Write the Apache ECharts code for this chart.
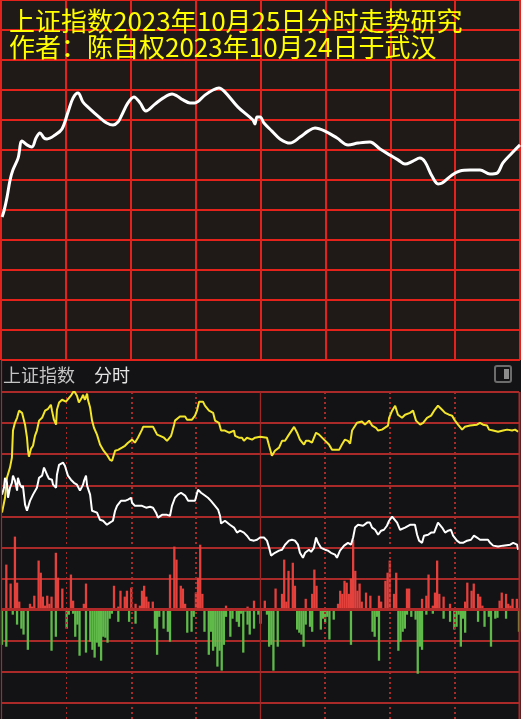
<!DOCTYPE html>
<html><head><meta charset="utf-8">
<script src="https://cdn.jsdelivr.net/npm/echarts@6/dist/echarts.min.js"></script>
<style>html,body{margin:0;padding:0;background:#1f1a18;}#c{width:521px;height:719px;}</style>
</head><body><div id="c"></div>
<script>
// ---- text ----
const titleLines = ['上证指数2023年10月25日分时走势研究', '作者：陈自权2023年10月24日于武汉'];
const panelName = '上证指数';
const panelMode = '分时';

// ---- top study curve: [minute, level] ----
const topCurve = [[0.5,47.7],[1.4,49.7],[2.8,54.3],[4.2,60.0],[5.5,63.3],[7.9,67.3],[9.7,73.0],[12.0,71.7],[14.3,71.0],[16.2,74.0],[18.0,75.7],[19.9,74.0],[21.3,73.7],[25.0,75.0],[28.2,77.0],[31.0,82.7],[33.3,87.3],[35.6,89.0],[37.9,86.0],[40.2,84.3],[45.8,80.7],[48.9,79.0],[51.8,78.3],[54.1,79.3],[55.9,81.7],[58.7,85.7],[61.5,87.7],[64.3,85.7],[67.0,83.0],[71.2,85.3],[74.9,87.3],[79.1,88.7],[81.4,88.0],[84.2,86.7],[87.4,85.7],[89.7,85.7],[94.3,88.3],[98.0,90.0],[100.8,90.7],[103.6,89.3],[109.6,84.3],[116.5,80.0],[117.4,78.7],[118.4,81.0],[119.8,81.0],[121.6,79.0],[125.3,76.3],[129.0,73.7],[133.6,72.3],[138.3,74.3],[142.0,76.3],[145.2,77.3],[149.8,76.3],[155.4,74.0],[160.5,71.7],[165.1,72.3],[170.6,72.7],[175.3,70.3],[179.9,68.3],[183.6,66.7],[186.8,65.3],[190.5,66.3],[193.7,67.3],[196.1,66.0],[199.3,61.3],[202.1,58.7],[204.0,59.0],[208.6,61.7],[212.2,63.0],[216.9,63.3],[221.5,63.3],[226.1,62.0],[229.4,62.3],[232.1,65.7],[236.3,69.0],[240.0,71.7]];

// ---- intraday panel: yellow line [minute, value] ----
const yellowLine = [[0,31.2],[1.4,36.0],[2.3,42.4],[3.7,45.7],[4.6,48.9],[5.1,57.6],[6.0,60.1],[7.0,61.7],[7.9,64.0],[8.8,64.6],[9.3,63.3],[9.7,62.7],[10.7,59.5],[11.6,55.3],[12.1,51.1],[12.5,49.2],[13.5,51.8],[13.9,51.4],[14.4,52.7],[15.3,55.9],[16.2,57.6],[17.2,60.8],[18.6,61.7],[20.0,64.0],[21.4,64.6],[22.7,65.9],[23.2,64.0],[24.1,61.1],[25.1,59.5],[25.5,64.3],[26.5,66.6],[27.9,67.5],[28.8,67.8],[29.7,66.9],[30.6,67.5],[32.0,68.8],[33.4,70.4],[34.8,68.8],[35.7,66.6],[37.1,68.2],[37.6,69.1],[38.5,67.5],[39.5,69.5],[39.9,67.5],[40.9,65.0],[41.8,60.8],[42.7,58.5],[44.1,56.3],[45.5,53.1],[46.9,51.4],[48.7,49.8],[50.1,48.2],[51.1,47.9],[52.5,51.1],[53.9,51.4],[55.7,52.1],[57.1,52.7],[58.5,53.7],[60.4,54.7],[61.7,53.7],[63.1,55.3],[65.0,57.9],[65.5,58.8],[67.8,58.8],[70.1,58.8],[72.0,56.3],[73.4,55.9],[75.2,55.3],[76.6,54.3],[77.5,53.7],[78.5,55.9],[78.9,56.9],[79.9,59.5],[80.3,60.8],[81.2,61.1],[82.6,62.1],[85.0,62.1],[85.9,61.1],[88.2,61.1],[89.6,62.4],[90.5,64.0],[91.5,66.9],[93.3,66.9],[94.2,65.6],[96.1,64.0],[98.0,63.3],[98.9,60.8],[100.7,60.1],[101.7,57.6],[103.5,57.6],[105.4,56.9],[107.7,57.6],[108.2,55.9],[110.0,55.3],[111.4,55.3],[112.3,54.3],[113.7,55.3],[116.1,54.7],[117.5,55.3],[119.8,55.6],[123.0,55.3],[124.0,52.7],[125.3,49.5],[126.7,51.1],[128.6,52.1],[130.0,54.3],[131.4,54.3],[133.2,56.3],[135.6,58.8],[137.0,56.9],[138.3,54.7],[140.2,53.1],[141.1,54.3],[142.5,54.3],[143.9,53.7],[145.8,56.9],[147.2,56.3],[149.5,54.7],[151.8,53.1],[153.2,51.4],[156.5,51.4],[157.8,53.1],[159.2,54.7],[160.6,54.3],[161.6,53.4],[162.5,57.6],[164.8,60.1],[167.1,60.5],[168.5,59.5],[170.4,60.8],[171.8,59.2],[173.6,58.5],[174.6,57.6],[176.4,57.9],[177.3,57.6],[179.2,59.2],[179.7,61.7],[181.1,64.0],[182.5,65.6],[183.8,62.7],[185.7,61.7],[187.1,62.7],[189.4,63.3],[190.8,64.0],[192.2,60.8],[194.1,59.5],[195.5,60.1],[197.3,61.7],[199.2,62.4],[200.6,64.0],[202.4,65.6],[204.3,64.3],[205.7,63.3],[207.5,62.7],[208.9,62.4],[210.3,60.8],[211.7,59.5],[213.6,57.9],[214.9,58.8],[217.3,59.2],[220.5,59.5],[221.9,60.1],[223.3,59.5],[225.2,59.2],[226.1,57.9],[228.0,57.6],[230.3,57.2],[232.6,57.6],[234.5,57.9],[236.8,57.6],[238.2,57.9],[239.6,57.2]];

// ---- intraday panel: white line [minute, value] ----
const whiteLine = [[0,37.0],[0.9,39.2],[1.4,42.4],[2.3,40.8],[2.8,36.0],[3.7,39.2],[4.6,40.8],[5.1,43.1],[6.0,41.5],[7.0,38.3],[7.4,42.4],[8.4,40.2],[9.3,39.2],[9.7,39.9],[10.7,33.8],[11.6,31.8],[13.0,35.0],[14.4,37.0],[16.2,39.2],[17.2,42.4],[18.6,43.1],[19.5,45.7],[20.9,43.4],[21.8,42.1],[23.2,41.8],[23.7,40.2],[25.1,39.2],[25.5,43.4],[26.5,46.6],[28.3,47.3],[29.2,46.3],[30.6,43.1],[32.0,41.8],[33.4,40.8],[34.8,40.2],[36.2,38.3],[37.6,40.2],[38.1,41.5],[39.0,43.1],[39.5,39.9],[40.9,37.0],[41.8,31.8],[44.1,31.2],[45.5,28.9],[46.9,28.6],[48.7,27.3],[50.1,28.0],[51.5,28.6],[52.5,31.8],[53.4,33.4],[55.2,35.0],[57.1,35.0],[58.5,35.4],[59.9,36.0],[60.4,34.4],[61.7,33.4],[65.0,33.4],[65.5,33.8],[66.9,32.8],[68.7,33.1],[70.1,32.8],[71.5,31.2],[72.4,29.6],[74.3,30.5],[76.6,30.5],[78.0,30.2],[78.9,33.4],[80.3,36.0],[81.7,37.0],[83.1,37.6],[85.0,36.7],[86.4,35.0],[89.6,35.0],[91.0,38.6],[92.4,37.6],[94.2,36.7],[95.6,36.0],[97.0,35.0],[98.9,33.4],[100.3,32.2],[101.2,30.2],[101.7,27.7],[103.5,28.6],[105.8,27.3],[107.7,26.4],[109.1,24.8],[110.5,25.4],[112.3,24.8],[113.7,23.8],[115.1,22.5],[117.0,22.2],[118.4,22.5],[119.8,23.2],[121.6,23.2],[123.0,22.2],[124.0,19.9],[124.9,17.4],[126.7,18.3],[128.6,19.0],[130.0,19.3],[131.4,20.9],[133.2,22.2],[134.6,22.5],[136.0,22.2],[137.4,20.9],[138.3,18.3],[139.7,16.7],[140.7,18.3],[142.5,19.3],[143.5,18.6],[144.8,19.9],[145.8,23.2],[146.7,21.5],[148.1,19.9],[150.0,19.3],[151.3,19.0],[152.7,18.3],[154.6,17.7],[155.5,16.7],[156.9,19.0],[158.8,20.6],[160.6,21.5],[162.0,20.9],[163.0,23.2],[163.9,26.4],[165.3,27.3],[167.6,27.0],[169.5,28.0],[170.8,28.0],[171.8,26.4],[173.2,25.7],[174.6,24.1],[176.0,25.4],[177.3,25.7],[178.7,27.0],[179.7,28.6],[181.1,29.9],[182.0,29.6],[183.4,28.0],[184.8,25.7],[185.7,25.1],[187.1,26.4],[189.4,27.3],[191.7,27.3],[192.7,24.1],[193.6,22.2],[195.0,21.5],[195.9,23.8],[197.8,24.1],[199.2,24.8],[200.6,24.8],[202.0,27.3],[202.4,28.0],[204.3,26.4],[205.7,24.8],[207.1,25.4],[208.4,25.7],[209.4,23.8],[211.2,22.2],[212.6,21.5],[214.0,21.5],[215.9,22.2],[217.7,22.5],[219.1,23.8],[220.5,23.2],[221.9,22.5],[225.6,22.5],[226.6,21.5],[228.0,20.6],[230.3,20.3],[232.6,20.6],[235.9,20.9],[237.3,21.5],[239.1,20.9],[239.6,19.3]];

// ---- intraday panel: bars [minute, value] ----
const redBars = [[2,14.5],[4,8.4],[6,23.5],[7,8.7],[8,2.6],[13,1.9],[14,1.0],[15,4.5],[17,15.8],[18,11.9],[19,4.2],[20,1.3],[21,4.5],[22,1.9],[23,4.2],[25,18.3],[26,10.3],[28,6.8],[32,11.3],[33,2.9],[38,1.9],[39,8.4],[52,7.7],[54,1.0],[55,6.1],[57,4.2],[58,6.1],[60,7.1],[62,1.9],[64,1.3],[65,6.1],[66,7.7],[67,4.2],[68,2.6],[70,2.6],[78,11.3],[80,20.3],[81,16.1],[83,7.7],[84,6.8],[85,1.9],[90,5.5],[91,10.3],[92,20.9],[93,5.1],[104,1.3],[114,1.0],[117,2.9],[122,2.9],[127,6.8],[130,5.1],[131,16.1],[132,2.6],[133,12.5],[135,15.1],[136,7.7],[141,3.5],[144,5.1],[145,12.9],[146,7.7],[156,1.9],[157,6.1],[158,5.1],[159,9.3],[160,8.7],[161,5.1],[162,10.0],[163,22.5],[164,12.5],[165,6.1],[166,8.4],[167,2.6],[169,5.5],[171,4.5],[175,4.5],[176,2.6],[178,9.3],[179,11.9],[180,15.8],[182,5.1],[183,11.9],[188,6.8],[189,6.8],[195,3.5],[197,4.5],[198,11.3],[200,1.3],[201,5.5],[202,15.8],[203,5.1],[205,4.2],[208,1.9],[215,2.6],[216,8.7],[218,6.1],[219,8.4],[221,5.1],[222,4.2],[223,1.3],[231,2.9],[232,5.5],[234,5.1],[235,1.9],[236,1.3],[237,3.5],[239,3.5]];
const greenBars = [[0,-11.3],[2,-11.9],[5,-1.6],[7,-4.8],[9,-6.1],[10,-8.0],[12,-12.9],[23,-13.2],[25,-8.7],[30,-6.1],[31,-1.6],[33,-1.3],[34,-8.7],[35,-4.8],[36,-14.8],[39,-13.8],[41,-10.3],[42,-12.9],[43,-15.4],[44,-10.6],[45,-11.9],[46,-16.4],[47,-8.7],[48,-9.0],[49,-10.6],[50,-2.9],[51,-1.3],[54,-3.9],[59,-3.9],[62,-4.5],[71,-6.1],[72,-14.5],[73,-2.3],[75,-6.1],[77,-7.1],[78,-10.3],[86,-7.4],[88,-7.1],[89,-2.3],[94,-7.1],[96,-14.5],[97,-7.1],[98,-13.2],[99,-11.9],[100,-18.3],[101,-13.2],[102,-19.6],[103,-11.3],[104,-2.3],[106,-8.7],[107,-2.9],[109,-3.9],[110,-5.5],[111,-1.3],[112,-13.8],[113,-0.6],[114,-4.8],[115,-8.0],[117,-6.1],[119,-1.6],[120,-4.5],[123,-1.6],[124,-11.9],[125,-11.3],[126,-19.6],[128,-11.9],[137,-6.4],[138,-7.4],[139,-8.0],[140,-11.9],[141,-4.8],[143,-5.5],[144,-7.1],[148,-6.4],[149,-2.9],[150,-4.2],[151,-2.3],[152,-9.6],[154,-3.2],[162,-11.3],[172,-7.1],[173,-8.7],[174,-2.3],[175,-16.4],[184,-13.2],[185,-10.3],[186,-7.1],[187,-6.1],[188,-1.6],[190,-2.3],[192,-3.2],[193,-20.6],[194,-11.9],[195,-12.9],[197,-1.6],[200,-1.3],[205,-2.9],[208,-3.9],[210,-6.4],[211,-5.5],[212,-1.6],[213,-11.9],[214,-2.9],[215,-7.4],[221,-3.9],[224,-5.5],[226,-2.3],[227,-11.9],[229,-2.9],[230,-2.6],[234,-2.9],[240,-7.1]];

// ---- axis ticks ----
const halfHourTicks = [30, 60, 90, 150, 180, 210];
const noonTick = 120;

const RED_TOP = '#e3221c';
const RED_BOT = '#aa2a2a';
const CJK = '"Noto Sans CJK SC", "Noto Sans", sans-serif';

const chart = echarts.init(document.getElementById('c'), null, {renderer: 'canvas', width: 521, height: 719});

const hiddenAxisParts = {axisLine: {show: false}, axisTick: {show: false}, axisLabel: {show: false}};

const verticalMarks = halfHourTicks.map(function (t, i) {
  return {xAxis: t, lineStyle: i === 0
    ? {color: RED_BOT, width: 1, type: [2, 3]}
    : {color: RED_BOT, width: 2, type: [2, 3]}};
});
verticalMarks.push({xAxis: noonTick, lineStyle: {color: '#9c2828', width: 1.3, type: 'solid'}});

const option = {
  backgroundColor: '#1f1a18',
  animation: false,
  textStyle: {fontFamily: CJK},
  grid: [
    {left: 1, top: 0, width: 519, height: 360},
    {left: 2, top: 392, width: 517, height: 311},
    {left: 2, top: 392, width: 517, height: 327}
  ],
  xAxis: [
    Object.assign({gridIndex: 0, type: 'value', min: 0, max: 240, interval: 30,
      splitLine: {show: true, lineStyle: {color: RED_TOP, width: 2}}}, hiddenAxisParts),
    {gridIndex: 1, type: 'value', min: 0, max: 240, show: false},
    {gridIndex: 2, type: 'value', min: 0, max: 240, show: false}
  ],
  yAxis: [
    Object.assign({gridIndex: 0, type: 'value', min: 0, max: 120, interval: 10,
      splitLine: {show: true, lineStyle: {color: RED_TOP, width: 2}}}, hiddenAxisParts),
    Object.assign({gridIndex: 1, type: 'value', min: -30, max: 70, interval: 10,
      splitLine: {show: true, lineStyle: {color: RED_BOT, width: 2}}}, hiddenAxisParts),
    {gridIndex: 2, type: 'value', min: 0, max: 1, show: false}
  ],
  graphic: [
    {type: 'rect', z: -10, silent: true, shape: {x: 0, y: 361, width: 521, height: 358}, style: {fill: '#131316'}},
    {type: 'line', z: 50, silent: true, shape: {x1: 1.5, y1: 361, x2: 1.5, y2: 719}, style: {stroke: RED_BOT, lineWidth: 1.2}},
    {type: 'line', z: 50, silent: true, shape: {x1: 519.5, y1: 392, x2: 519.5, y2: 719}, style: {stroke: RED_BOT, lineWidth: 2}},
    {type: 'text', z: 100, x: 9, y: 21, style: {text: titleLines[0], fill: '#ffff00', font: '26px ' + CJK, textVerticalAlign: 'middle', verticalAlign: 'middle'}},
    {type: 'text', z: 100, x: 9, y: 47, style: {text: titleLines[1], fill: '#ffff00', font: '26px ' + CJK, textVerticalAlign: 'middle', verticalAlign: 'middle'}},
    {type: 'text', z: 100, x: 3, y: 375, style: {text: panelName, fill: '#c4c4c4', font: '18px ' + CJK, textVerticalAlign: 'middle', verticalAlign: 'middle'}},
    {type: 'text', z: 100, x: 94, y: 375, style: {text: panelMode, fill: '#e4e4e4', font: '18px ' + CJK, textVerticalAlign: 'middle', verticalAlign: 'middle'}},
    {type: 'rect', z: 100, silent: true, shape: {x: 495, y: 366, width: 16, height: 16, r: 2}, style: {fill: 'none', stroke: '#6c6c6c', lineWidth: 2}},
    {type: 'rect', z: 100, silent: true, shape: {x: 504, y: 369, width: 5, height: 10}, style: {fill: '#8c8c8c'}}
  ],
  series: [
    {type: 'line', xAxisIndex: 2, yAxisIndex: 2, data: [], z: 1, silent: true,
      markLine: {silent: true, symbol: ['none', 'none'], label: {show: false}, animation: false, data: verticalMarks}},
    {type: 'line', xAxisIndex: 0, yAxisIndex: 0, data: topCurve, smooth: 0.35, showSymbol: false, silent: true,
      lineStyle: {color: '#ffffff', width: 3}, z: 5},
    {type: 'bar', xAxisIndex: 1, yAxisIndex: 1, data: redBars, barWidth: 2.3, barGap: '-100%', silent: true,
      itemStyle: {color: '#e4403c'}, z: 3,
      markLine: {silent: true, symbol: ['none', 'none'], label: {show: false}, animation: false,
        lineStyle: {color: '#b02a2a', width: 3, type: 'solid'}, data: [{yAxis: 0}]}},
    {type: 'bar', xAxisIndex: 1, yAxisIndex: 1, data: greenBars, barWidth: 2.3, barGap: '-100%', silent: true,
      itemStyle: {color: '#5fba4a'}, z: 3},
    {type: 'line', xAxisIndex: 1, yAxisIndex: 1, data: yellowLine, showSymbol: false, silent: true,
      lineStyle: {color: '#f3e62a', width: 2}, z: 6},
    {type: 'line', xAxisIndex: 1, yAxisIndex: 1, data: whiteLine, showSymbol: false, silent: true,
      lineStyle: {color: '#ffffff', width: 2}, z: 6}
  ]
};
chart.setOption(option);
</script>
</body></html>
